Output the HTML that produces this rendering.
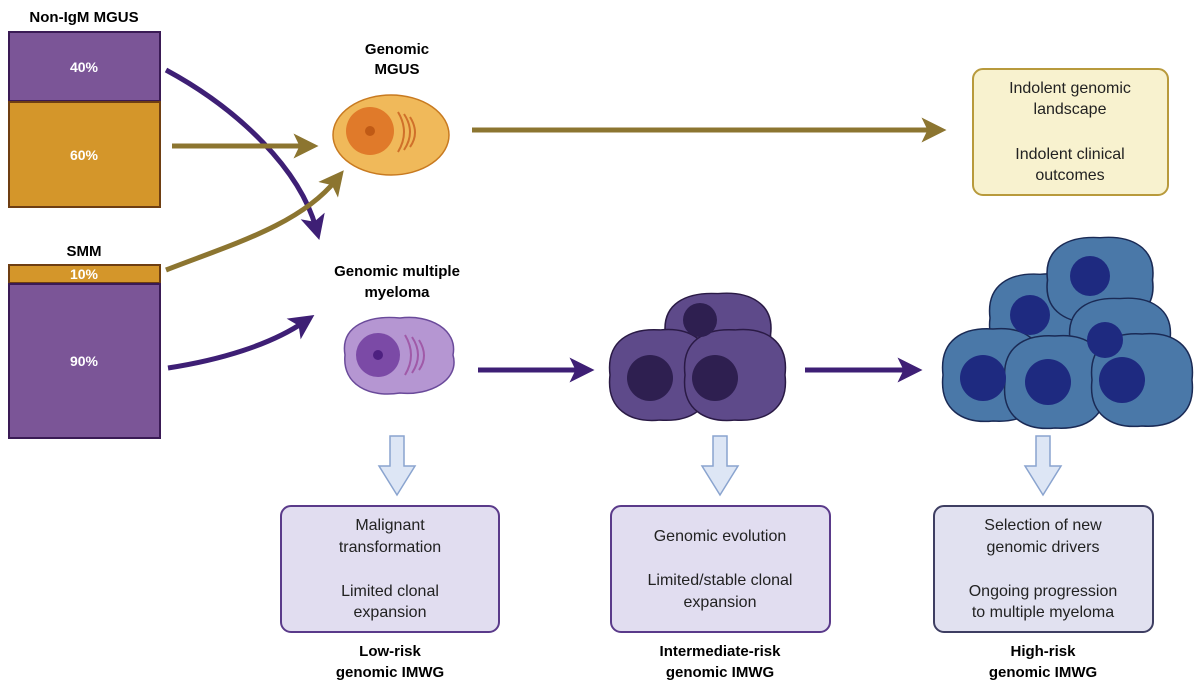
<!DOCTYPE html>
<html><head><meta charset="utf-8"><style>
html,body{margin:0;padding:0;background:#fff;}
svg{display:block;font-family:"Liberation Sans",sans-serif;}
.b{font-weight:bold;}
</style></head><body>
<svg width="1200" height="691" viewBox="0 0 1200 691">
<defs>
<marker id="ap" markerWidth="5" markerHeight="5" refX="2.5" refY="2.5" orient="auto" markerUnits="strokeWidth"><path d="M0,0 L5,2.5 L0,5 L1.2,2.5 Z" fill="#3e1f75"/></marker>
<marker id="ag" markerWidth="5" markerHeight="5" refX="2.5" refY="2.5" orient="auto" markerUnits="strokeWidth"><path d="M0,0 L5,2.5 L0,5 L1.2,2.5 Z" fill="#8c7530"/></marker>
<g id="pc"><path d="M-50,0 C-54,-35 -30,-48 0,-46 C30,-49 54,-35 50,0 C54,35 30,48 0,46 C-30,49 -54,35 -50,0Z"/></g>
</defs>
<!-- bars -->
<text x="84" y="22" text-anchor="middle" class="b" font-size="15">Non-IgM MGUS</text>
<rect x="9" y="32" width="151" height="69" fill="#7b5597" stroke="#3a1a55" stroke-width="2"/>
<rect x="9" y="102" width="151" height="105" fill="#d4962a" stroke="#6e3e12" stroke-width="2"/>
<text x="84" y="72" text-anchor="middle" class="b" font-size="14" fill="#fff">40%</text>
<text x="84" y="160" text-anchor="middle" class="b" font-size="14" fill="#fff">60%</text>
<text x="84" y="256" text-anchor="middle" class="b" font-size="15">SMM</text>
<rect x="9" y="265" width="151" height="18" fill="#d4962a" stroke="#6e3e12" stroke-width="2"/>
<rect x="9" y="284" width="151" height="154" fill="#7b5597" stroke="#3a1a55" stroke-width="2"/>
<text x="84" y="279" text-anchor="middle" class="b" font-size="14" fill="#fff">10%</text>
<text x="84" y="366" text-anchor="middle" class="b" font-size="14" fill="#fff">90%</text>
<!-- arrows -->
<path d="M166,70 C240,110 300,170 316,228" fill="none" stroke="#3e1f75" stroke-width="5" marker-end="url(#ap)"/>
<path d="M172,146 L306,146" fill="none" stroke="#8c7530" stroke-width="5" marker-end="url(#ag)"/>
<path d="M166,270 C230,245 300,225 336,180" fill="none" stroke="#8c7530" stroke-width="5" marker-end="url(#ag)"/>
<path d="M168,368 C220,360 270,345 304,322" fill="none" stroke="#3e1f75" stroke-width="5" marker-end="url(#ap)"/>
<path d="M472,130 L934,130" fill="none" stroke="#8c7530" stroke-width="5" marker-end="url(#ag)"/>
<path d="M478,370 L582,370" fill="none" stroke="#3e1f75" stroke-width="5" marker-end="url(#ap)"/>
<path d="M805,370 L910,370" fill="none" stroke="#3e1f75" stroke-width="5" marker-end="url(#ap)"/>
<!-- labels -->
<text x="397" y="54" text-anchor="middle" class="b" font-size="15">Genomic</text>
<text x="397" y="74" text-anchor="middle" class="b" font-size="15">MGUS</text>
<text x="397" y="276" text-anchor="middle" class="b" font-size="15">Genomic multiple</text>
<text x="397" y="297" text-anchor="middle" class="b" font-size="15">myeloma</text>
<!-- MGUS cell -->
<ellipse cx="391" cy="135" rx="58" ry="40" fill="#f0b95a" stroke="#c87a20" stroke-width="1.5"/>
<circle cx="370" cy="131" r="24" fill="#e07a2a"/>
<circle cx="370" cy="131" r="5" fill="#c05a15"/>
<path d="M398,112 q12,20 0,40 M404,114 q12,18 0,36 M410,117 q10,16 0,30" fill="none" stroke="#d0702a" stroke-width="2"/>
<!-- myeloma cell -->
<path d="M345,355 C340,325 370,315 400,318 C430,314 458,330 453,355 C460,380 430,396 400,393 C370,398 342,385 345,355Z" fill="#b596d2" stroke="#6a4a9a" stroke-width="1.5"/>
<circle cx="378" cy="355" r="22" fill="#7b4aa6"/>
<circle cx="378" cy="355" r="5" fill="#4d2080"/>
<path d="M405,335 q12,20 0,40 M412,337 q12,18 0,36 M419,340 q10,16 0,30" fill="none" stroke="#a05aa8" stroke-width="2"/>
<!-- purple cluster -->
<g fill="#5e4a8a" stroke="#2a1a45" stroke-width="1.5">
<use href="#pc" transform="translate(718,335) scale(1.05,0.9)"/>
<use href="#pc" transform="translate(660,375) scale(1.0,0.98)"/>
<use href="#pc" transform="translate(735,375) scale(1.0,0.98)"/>
</g>
<g fill="#2e1f50"><circle cx="650" cy="378" r="23"/><circle cx="715" cy="378" r="23"/><circle cx="700" cy="320" r="17"/></g>
<!-- blue cluster -->
<g fill="#4a78a8" stroke="#1a2a55" stroke-width="1.5">
<use href="#pc" transform="translate(1040,318) scale(1.0,0.95)"/>
<use href="#pc" transform="translate(1100,280) scale(1.05,0.92)"/>
<use href="#pc" transform="translate(1120,340) scale(1.0,0.9)"/>
<use href="#pc" transform="translate(993,375) scale(1.0,1.0)"/>
<use href="#pc" transform="translate(1055,382) scale(1.0,1.0)"/>
<use href="#pc" transform="translate(1142,380) scale(1.0,1.0)"/>
</g>
<g fill="#1e2a80"><circle cx="983" cy="378" r="23"/><circle cx="1048" cy="382" r="23"/><circle cx="1122" cy="380" r="23"/><circle cx="1030" cy="315" r="20"/><circle cx="1090" cy="276" r="20"/><circle cx="1105" cy="340" r="18"/></g>
<!-- gold box -->
<rect x="973" y="69" width="195" height="126" rx="10" fill="#f8f2cf" stroke="#b89a3c" stroke-width="2"/>
<g font-size="16" text-anchor="middle" fill="#222">
<text x="1070" y="93">Indolent genomic</text><text x="1070" y="114">landscape</text>
<text x="1070" y="159">Indolent clinical</text><text x="1070" y="180">outcomes</text>
</g>
<!-- hollow down arrows -->
<g fill="#dde6f5" stroke="#8aa4cf" stroke-width="1.5">
<path d="M390,436 h14 v30 h11 l-18,29 l-18,-29 h11 Z"/>
<path d="M713,436 h14 v30 h11 l-18,29 l-18,-29 h11 Z"/>
<path d="M1036,436 h14 v30 h11 l-18,29 l-18,-29 h11 Z"/>
</g>
<!-- boxes -->
<rect x="281" y="506" width="218" height="126" rx="10" fill="#e1ddf0" stroke="#5a3a8a" stroke-width="2"/>
<rect x="611" y="506" width="219" height="126" rx="10" fill="#e1ddf0" stroke="#5a3a8a" stroke-width="2"/>
<rect x="934" y="506" width="219" height="126" rx="10" fill="#e1e1f0" stroke="#3e3e62" stroke-width="2"/>
<g font-size="16" text-anchor="middle" fill="#222">
<text x="390" y="530">Malignant</text><text x="390" y="552">transformation</text>
<text x="390" y="596">Limited clonal</text><text x="390" y="617">expansion</text>
<text x="720" y="541">Genomic evolution</text>
<text x="720" y="585">Limited/stable clonal</text><text x="720" y="607">expansion</text>
<text x="1043" y="530">Selection of new</text><text x="1043" y="552">genomic drivers</text>
<text x="1043" y="596">Ongoing progression</text><text x="1043" y="617">to multiple myeloma</text>
</g>
<g font-size="15" text-anchor="middle" class="b">
<text x="390" y="656">Low-risk</text><text x="390" y="677">genomic IMWG</text>
<text x="720" y="656">Intermediate-risk</text><text x="720" y="677">genomic IMWG</text>
<text x="1043" y="656">High-risk</text><text x="1043" y="677">genomic IMWG</text>
</g>
</svg>
</body></html>
